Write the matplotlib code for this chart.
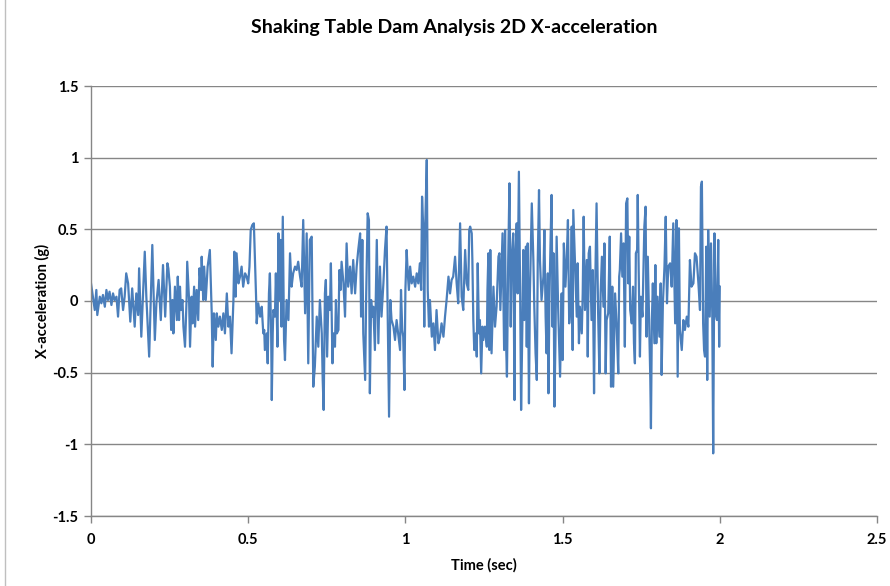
import matplotlib
matplotlib.use("Agg")
import matplotlib.pyplot as plt
from matplotlib.lines import Line2D

plt.rcParams['font.family'] = ['Lato', 'DejaVu Sans']

title = "Shaking Table Dam Analysis 2D X-acceleration"
x_label = "Time (sec)"
y_label = "X-acceleration (g)"
x_ticks = [0, 0.5, 1, 1.5, 2, 2.5]
x_tick_labels = ["0", "0.5", "1", "1.5", "2", "2.5"]
y_ticks = [-1.5, -1, -0.5, 0, 0.5, 1, 1.5]
y_tick_labels = ["-1.5", "-1", "-0.5", "0", "0.5", "1", "1.5"]

# time (s) of each read point, segment by segment
time_s = [
    0.000, 0.012, 0.017, 0.020, 0.028, 0.033, 0.038, 0.044, 0.049, 0.054,
    0.059, 0.065, 0.070, 0.075, 0.081, 0.086, 0.091, 0.096, 0.102, 0.107,
    0.112, 0.118, 0.125, 0.131, 0.139, 0.144, 0.150, 0.153, 0.160, 0.171,
    0.176, 0.185, 0.195, 0.203, 0.208, 0.215, 0.222, 0.229, 0.236, 0.243,
    0.246, 0.251, 0.255, 0.259, 0.262, 0.267, 0.273, 0.276, 0.280, 0.283,
    0.286, 0.291, 0.294, 0.299, 0.304, 0.306, 0.312, 0.315, 0.320, 0.323,
    0.328, 0.331, 0.336, 0.341, 0.345, 0.350, 0.352, 0.357, 0.360, 0.365,
    0.371, 0.375, 0.378, 0.384, 0.387, 0.391, 0.397, 0.400, 0.405, 0.410,
    0.416, 0.421, 0.426, 0.432, 0.437, 0.442, 0.447, 0.453, 0.456, 0.460,
    0.463, 0.469, 0.474, 0.479, 0.484, 0.490,
    0.495, 0.500, 0.504, 0.508, 0.513, 0.518, 0.522, 0.525, 0.527, 0.532,
    0.538, 0.543, 0.548, 0.551, 0.553, 0.559, 0.562, 0.566, 0.569, 0.573,
    0.575, 0.578, 0.580, 0.585, 0.588, 0.593, 0.596, 0.599, 0.603, 0.606,
    0.610, 0.614, 0.617, 0.622, 0.628, 0.633, 0.638, 0.643, 0.649, 0.654,
    0.659, 0.665, 0.670, 0.675, 0.681, 0.686, 0.691, 0.696, 0.702, 0.707,
    0.712, 0.718, 0.723, 0.728,
    0.734, 0.737, 0.740, 0.744, 0.747, 0.751, 0.755, 0.760, 0.763, 0.768,
    0.771, 0.776, 0.779, 0.782, 0.787, 0.790, 0.794, 0.797, 0.803, 0.808,
    0.813, 0.818, 0.824, 0.829, 0.834, 0.840, 0.845, 0.850, 0.856, 0.859,
    0.863, 0.866, 0.872, 0.875, 0.880, 0.884, 0.887, 0.891, 0.895, 0.898,
    0.903, 0.909, 0.914, 0.919, 0.924, 0.930, 0.935, 0.940, 0.943, 0.948,
    0.952, 0.956, 0.962, 0.967,
    0.972, 0.978, 0.983, 0.986, 0.990, 0.993, 0.997, 1.000, 1.004, 1.007,
    1.011, 1.015, 1.020, 1.025, 1.031, 1.036, 1.041, 1.046, 1.050, 1.053,
    1.057, 1.060, 1.063, 1.068, 1.071, 1.075, 1.078, 1.084, 1.089, 1.094,
    1.099, 1.105, 1.110, 1.115, 1.121, 1.126, 1.131, 1.137, 1.142, 1.147,
    1.152, 1.158, 1.163, 1.168, 1.174, 1.179, 1.184, 1.190, 1.195, 1.200,
    1.203,
    1.206, 1.211, 1.213, 1.216, 1.219, 1.224, 1.227, 1.230, 1.234, 1.237,
    1.241, 1.245, 1.248, 1.253, 1.259, 1.261, 1.264, 1.267, 1.270, 1.274,
    1.280, 1.285, 1.290, 1.296, 1.299, 1.302, 1.306, 1.309, 1.314, 1.317,
    1.320, 1.323, 1.327, 1.331, 1.335, 1.338, 1.343, 1.347, 1.349, 1.354,
    1.357, 1.361, 1.365, 1.368, 1.372, 1.375, 1.378, 1.383, 1.386, 1.389,
    1.393, 1.396, 1.402, 1.407, 1.410, 1.414, 1.418, 1.421, 1.425, 1.428,
    1.433, 1.439, 1.442,
    1.446, 1.449, 1.453, 1.455, 1.458, 1.462, 1.465, 1.468, 1.471, 1.474,
    1.477, 1.481, 1.486, 1.492, 1.497, 1.500, 1.504, 1.509, 1.513, 1.517,
    1.521, 1.526, 1.529, 1.532, 1.534, 1.539, 1.545, 1.548, 1.552, 1.555,
    1.561, 1.564, 1.567, 1.571, 1.577, 1.580, 1.583, 1.587, 1.592, 1.596,
    1.600, 1.603, 1.608, 1.613, 1.617, 1.621, 1.625, 1.630, 1.633, 1.637,
    1.640, 1.645, 1.650, 1.654, 1.658, 1.661, 1.667, 1.672, 1.677, 1.680,
    1.682, 1.686, 1.690, 1.694, 1.698, 1.702, 1.706, 1.709, 1.712, 1.715,
    1.720, 1.724, 1.727, 1.730, 1.733, 1.737, 1.739, 1.742, 1.746, 1.749,
    1.754, 1.757, 1.760, 1.764, 1.767, 1.771, 1.775, 1.779, 1.781, 1.784,
    1.787, 1.792, 1.795, 1.798, 1.802, 1.808, 1.812, 1.815, 1.819, 1.824,
    1.828, 1.832, 1.836, 1.842, 1.847, 1.852, 1.858, 1.862, 1.866, 1.870,
    1.873, 1.879, 1.884, 1.889, 1.895, 1.900, 1.905, 1.910, 1.916, 1.921,
    1.926, 1.932, 1.937, 1.940, 1.943, 1.947, 1.950, 1.953, 1.957, 1.960,
    1.963, 1.968, 1.972, 1.976, 1.979, 1.983, 1.987, 1.991, 1.995, 1.998,
    2.000,
]

# X-acceleration (g) at each read point
accel_g = [
    0.123, -0.063, 0.077, -0.098, 0.030, -0.016, 0.042, -0.040, 0.077, 0.007,
    0.065, -0.028, 0.053, 0.007, 0.030, -0.109, 0.077, 0.088, -0.063, 0.030,
    0.193, 0.123, -0.144, 0.088, -0.179, 0.053, -0.098, 0.228, -0.249, 0.344,
    0.030, -0.388, 0.391, -0.272, -0.016, 0.147, -0.133, 0.251, -0.109, 0.263,
    0.228, 0.100, -0.202, 0.007, -0.226, 0.100, -0.133, 0.170, -0.133, 0.100,
    -0.063, 0.007, -0.179, -0.319, 0.007, 0.274, 0.007, -0.319, 0.030, -0.156,
    0.100, -0.179, 0.077, -0.133, 0.228, 0.077, 0.309, 0.007, 0.240, 0.007,
    0.240, 0.309, 0.356, -0.086, -0.458, -0.086, -0.272, -0.086, -0.179, -0.109,
    -0.202, -0.086, -0.226, 0.053, -0.179, -0.109, -0.365, 0.007, 0.344, 0.030,
    0.333, 0.123, 0.170, 0.240, 0.100, 0.193,
    0.170, 0.123, 0.240, 0.495, 0.530, 0.542, 0.263, 0.030, -0.156, -0.016,
    -0.109, -0.040, -0.226, -0.202, -0.342, -0.226, -0.435, 0.053, 0.193, -0.226,
    -0.691, -0.226, -0.063, -0.109, 0.193, -0.319, 0.472, 0.007, 0.426, -0.179,
    0.588, -0.272, -0.412, 0.007, -0.133, 0.333, 0.100, 0.193, 0.240, 0.216,
    0.274, 0.170, 0.100, 0.565, -0.086, 0.472, -0.435, 0.426, 0.449, -0.598,
    -0.458, -0.109, -0.319, 0.007,
    -0.226, -0.551, -0.760, 0.053, 0.147, -0.388, 0.030, -0.063, 0.263, -0.435,
    -0.226, -0.319, 0.007, -0.226, -0.202, 0.216, 0.077, 0.274, 0.123, -0.109,
    0.402, 0.100, 0.240, 0.053, 0.286, 0.053, 0.240, 0.356, 0.472, -0.109,
    0.426, -0.226, -0.551, 0.007, 0.612, 0.565, -0.644, 0.007, -0.109, -0.040,
    -0.342, 0.426, -0.295, 0.240, -0.109, 0.123, 0.356, 0.519, 0.007, -0.807,
    0.007, -0.133, -0.179, -0.272,
    -0.133, -0.249, -0.342, 0.077, -0.202, -0.249, -0.621, 0.077, 0.356, 0.216,
    0.077, 0.240, 0.123, 0.170, 0.100, 0.193, 0.123, 0.263, 0.077, 0.728,
    0.495, -0.179, 0.519, 0.984, 0.077, -0.179, 0.007, -0.249, -0.156, -0.342,
    -0.063, -0.295, -0.249, -0.156, -0.249, -0.109, 0.007, 0.170, 0.053, 0.147,
    0.170, 0.309, 0.123, -0.016, 0.542, 0.030, -0.063, 0.356, 0.123, 0.077,
    0.495,
    0.519, 0.472, 0.286, -0.133, -0.342, -0.226, -0.388, 0.263, -0.226, -0.133,
    -0.505, -0.179, -0.272, -0.179, -0.319, 0.077, 0.333, -0.342, 0.356, -0.365,
    0.100, -0.179, -0.040, 0.309, 0.333, -0.063, 0.240, 0.472, -0.342, 0.495,
    -0.272, -0.528, 0.286, 0.821, -0.179, 0.286, 0.472, -0.691, 0.286, 0.542,
    0.053, 0.902, 0.053, -0.760, -0.179, 0.356, -0.133, 0.379, -0.319, 0.402,
    -0.714, 0.053, 0.681, 0.286, -0.040, -0.365, -0.551, 0.286, 0.774, 0.286,
    0.007, 0.170, 0.495,
    -0.109, -0.365, 0.193, -0.644, 0.007, 0.449, 0.740, -0.179, 0.333, -0.737,
    -0.319, 0.449, -0.063, -0.528, 0.053, -0.412, 0.402, 0.100, 0.286, 0.565,
    -0.156, 0.007, 0.519, -0.342, 0.635, 0.286, -0.109, 0.263, -0.295, -0.040,
    -0.226, 0.053, 0.588, -0.063, 0.286, -0.388, 0.333, 0.379, -0.133, 0.216,
    -0.644, 0.007, 0.681, -0.086, -0.505, 0.053, 0.309, -0.040, 0.402, -0.505,
    -0.133, -0.086, 0.449, -0.598, 0.100, -0.598, 0.053, -0.179, -0.505, 0.170,
    0.216, 0.472, 0.170, 0.402, -0.319, 0.681, 0.716, 0.123, 0.449, -0.063,
    -0.156, 0.100, -0.295, -0.435, 0.333, 0.356, 0.740, 0.216, -0.388, 0.030,
    -0.109, 0.216, 0.519, 0.658, -0.249, 0.309, -0.133, -0.551, -0.888, -0.133,
    0.123, -0.295, 0.251, -0.295, 0.030, -0.249, 0.123, -0.516, -0.016, 0.240,
    0.588, -0.016, 0.240, 0.263, 0.100, 0.542, -0.156, 0.565, -0.528, 0.507,
    -0.202, -0.342, -0.133, -0.202, -0.109, -0.179, 0.286, 0.100, 0.123, 0.333,
    0.309, 0.123, -0.063, 0.798, 0.833, -0.156, -0.342, -0.388, 0.379, -0.551,
    0.495, -0.109, 0.402, -0.086, -1.063, 0.472, -0.086, -0.133, 0.426, -0.319,
    0.100,
]

grid_color = "#868686"
line_color = "#4A7EBB"

fig = plt.figure(figsize=(8.9, 5.86), dpi=100)
ax = fig.add_axes([91 / 890, 1 - 516 / 586, (877 - 91) / 890, (516 - 86) / 586])

ax.plot(time_s, accel_g, color=line_color, lw=1.6)

ax.set_xlim(0, 2.5)
ax.set_ylim(-1.5, 1.5)
ax.set_xticks(x_ticks)
ax.set_xticklabels(x_tick_labels)
ax.set_yticks(y_ticks)
ax.set_yticklabels(y_tick_labels)
ax.grid(axis="y", color=grid_color, lw=1.0)
ax.set_axisbelow(True)
for side in ("top", "right"):
    ax.spines[side].set_visible(False)
for side in ("left", "bottom"):
    ax.spines[side].set_color(grid_color)
    ax.spines[side].set_linewidth(1.0)
ax.tick_params(axis="both", direction="out", length=5, width=1.0,
               color=grid_color, labelsize=10.5, pad=4)
for lab in ax.get_xticklabels() + ax.get_yticklabels():
    lab.set_fontweight("bold")
ax.tick_params(axis="x", pad=7)

ax.set_xlabel(x_label, fontsize=10.5, fontweight="bold", labelpad=8)
ax.set_ylabel(y_label, fontsize=10.5, fontweight="bold", labelpad=2)

fig.text(454 / 890, 1 - 28 / 586, title, ha="center", va="center",
         fontsize=14, fontweight="bold")

fig.add_artist(Line2D([5 / 890, 5 / 890], [0, 1], transform=fig.transFigure,
                      color="#BFBFBF", lw=1.0))

fig.savefig("out.png", dpi=100)
